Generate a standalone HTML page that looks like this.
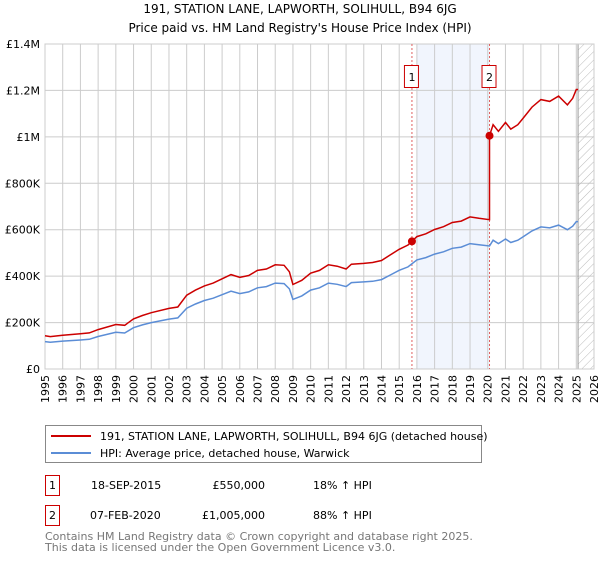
<!DOCTYPE html>
<html><head><meta charset="utf-8"><style>
body{margin:0;background:#fff;font-family:"DejaVu Sans","Liberation Sans",sans-serif;}
svg text{font-family:"DejaVu Sans","Liberation Sans",sans-serif;}
</style></head><body>
<svg id="c" width="600" height="560" xmlns="http://www.w3.org/2000/svg">
<defs><pattern id="hatch" width="6" height="6" patternUnits="userSpaceOnUse" patternTransform="rotate(45)"><line x1="0" y1="0" x2="0" y2="6" stroke="#bbb" stroke-width="1"/></pattern></defs>
<text x="300" y="13" text-anchor="middle" font-size="12" fill="#000">191, STATION LANE, LAPWORTH, SOLIHULL, B94 6JG</text>
<text x="300" y="32" text-anchor="middle" font-size="12" fill="#000">Price paid vs. HM Land Registry's House Price Index (HPI)</text>
<g id="plot"></g>
<g>
<rect x="45.5" y="425.5" width="436" height="37" fill="#fff" stroke="#888"/>
<line x1="51" y1="436" x2="91" y2="436" stroke="#cc0000" stroke-width="2"/>
<text x="100" y="440" font-size="11">191, STATION LANE, LAPWORTH, SOLIHULL, B94 6JG (detached house)</text>
<line x1="51" y1="453" x2="91" y2="453" stroke="#5b8dd6" stroke-width="2"/>
<text x="100" y="457" font-size="11">HPI: Average price, detached house, Warwick</text>
</g>
<g font-size="11">
<rect x="45.5" y="475.5" width="14" height="20" fill="#fff" stroke="#cc0000"/><text x="52.5" y="489" text-anchor="middle">1</text>
<text x="91" y="489">18-SEP-2015</text><text x="265" y="489" text-anchor="end">£550,000</text><text x="313" y="489">18% ↑ HPI</text>
<rect x="45.5" y="505.5" width="14" height="20" fill="#fff" stroke="#cc0000"/><text x="52.5" y="519" text-anchor="middle">2</text>
<text x="90" y="519">07-FEB-2020</text><text x="265" y="519" text-anchor="end">£1,005,000</text><text x="313" y="519">88% ↑ HPI</text>
</g>
<text x="45" y="540" font-size="11" fill="#777">Contains HM Land Registry data © Crown copyright and database right 2025.</text>
<text x="45" y="551" font-size="11" fill="#777">This data is licensed under the Open Government Licence v3.0.</text>
</svg>
<script>
const hpiYears=[1995.0,1995.3,1996,1997,1997.5,1998,1999,1999.5,2000,2000.5,2001,2002,2002.5,2003,2003.5,2004,2004.5,2005,2005.5,2006,2006.5,2007,2007.5,2008,2008.5,2008.8,2009.0,2009.5,2010,2010.5,2011,2011.5,2012,2012.3,2013,2013.5,2014,2014.5,2015,2015.5,2016,2016.5,2017,2017.5,2018,2018.5,2019,2019.5,2020.1,2020.3,2020.6,2021,2021.3,2021.7,2022,2022.5,2023,2023.5,2024,2024.5,2024.8,2025.0,2025.1];
const hpiValues=[118000,115000,120000,125000,128000,140000,158000,155000,178000,190000,200000,215000,220000,262000,280000,295000,305000,320000,335000,325000,332000,350000,355000,370000,368000,345000,300000,315000,340000,350000,370000,365000,355000,372000,375000,378000,385000,405000,425000,440000,470000,480000,495000,505000,520000,525000,540000,535000,530000,555000,540000,560000,545000,555000,570000,595000,612000,608000,620000,600000,615000,635000,635000];
const saleYears=[2015.72,2020.1];
const salePrices=[550000,1005000];
const yTicks=[0,200000,400000,600000,800000,1000000,1200000,1400000];
const yTickLabels=["£0","£200K","£400K","£600K","£800K","£1M","£1.2M","£1.4M"];
const xTicks=[1995,1996,1997,1998,1999,2000,2001,2002,2003,2004,2005,2006,2007,2008,2009,2010,2011,2012,2013,2014,2015,2016,2017,2018,2019,2020,2021,2022,2023,2024,2025,2026];

const X0=45,X1=594,Y0=369,Y1=44;
const xs=y=>X0+(y-1995)/(2026-1995)*(X1-X0);
const ys=v=>Y0-v/1400000*(Y0-Y1);
const NS="http://www.w3.org/2000/svg";
const g=document.getElementById('plot');
function mk(t,a){const e=document.createElementNS(NS,t);for(const k in a)e.setAttribute(k,a[k]);g.appendChild(e);return e;}
function hpiAt(y){for(let i=0;i<hpiYears.length-1;i++){if(y<=hpiYears[i+1]){const f=(y-hpiYears[i])/(hpiYears[i+1]-hpiYears[i]);return hpiValues[i]+f*(hpiValues[i+1]-hpiValues[i]);}}return hpiValues[hpiValues.length-1];}

let e=mk('rect',{x:xs(2016),y:Y1,width:xs(saleYears[1])-xs(2016),height:Y0-Y1,fill:'#eef3fc',opacity:0.8});


xTicks.forEach(t=>{const l=mk('line',{x1:xs(t),x2:xs(t),y1:Y1,y2:Y0,stroke:'#ccc','stroke-width':1});


const tx=mk('text',{x:0,y:0,'font-size':11,'text-anchor':'end',transform:`translate(${xs(t)+4},${Y0+6}) rotate(-90)`});tx.textContent=t;

});
yTicks.forEach((t,i)=>{const l=mk('line',{x1:X0,x2:X1,y1:ys(t),y2:ys(t),stroke:'#ccc','stroke-width':1});


const tx=mk('text',{x:X0-5,y:ys(t)+4,'font-size':11,'text-anchor':'end'});tx.textContent=yTickLabels[i];

});
e=mk('rect',{x:xs(2025.1),y:Y1,width:X1-xs(2025.1),height:Y0-Y1,fill:'url(#hatch)',stroke:'#999'});


e=mk('rect',{x:X0,y:Y1,width:X1-X0,height:Y0-Y1,fill:'none',stroke:'#ccc'});


saleYears.forEach((s,i)=>{const l=mk('line',{x1:xs(s),x2:xs(s),y1:Y1,y2:Y0,stroke:'#e06060','stroke-dasharray':'2,2','stroke-width':1});


const b=mk('rect',{x:xs(s)-7.5,y:65.5,width:14,height:22,fill:'#fff',stroke:'#cc0000'});


const t=mk('text',{x:xs(s),y:81,'font-size':11,'text-anchor':'middle'});t.textContent=i+1;

});
let d='';hpiYears.forEach((y,i)=>{d+=(i?'L':'M')+xs(y).toFixed(1)+','+ys(hpiValues[i]).toFixed(1);});
e=mk('path',{d:d,fill:'none',stroke:'#5b8dd6','stroke-width':1.5});


const r1=salePrices[0]/hpiAt(saleYears[0]),r2=salePrices[1]/hpiAt(saleYears[1]);
let pd='';
hpiYears.forEach((y,i)=>{if(y<saleYears[1]){pd+=(pd?'L':'M')+xs(y).toFixed(1)+','+ys(hpiValues[i]*r1).toFixed(1);}});
pd+='L'+xs(saleYears[1]).toFixed(1)+','+ys(hpiAt(saleYears[1])*r1).toFixed(1);
pd+='L'+xs(saleYears[1]).toFixed(1)+','+ys(salePrices[1]).toFixed(1);
hpiYears.forEach((y,i)=>{if(y>saleYears[1]){pd+='L'+xs(y).toFixed(1)+','+ys(hpiValues[i]*r2).toFixed(1);}});
e=mk('path',{d:pd,fill:'none',stroke:'#cc0000','stroke-width':1.5});


saleYears.forEach((s,i)=>{const c=mk('circle',{cx:xs(s),cy:ys(salePrices[i]),r:4,fill:'#cc0000'});

});
</script>
</body></html>
